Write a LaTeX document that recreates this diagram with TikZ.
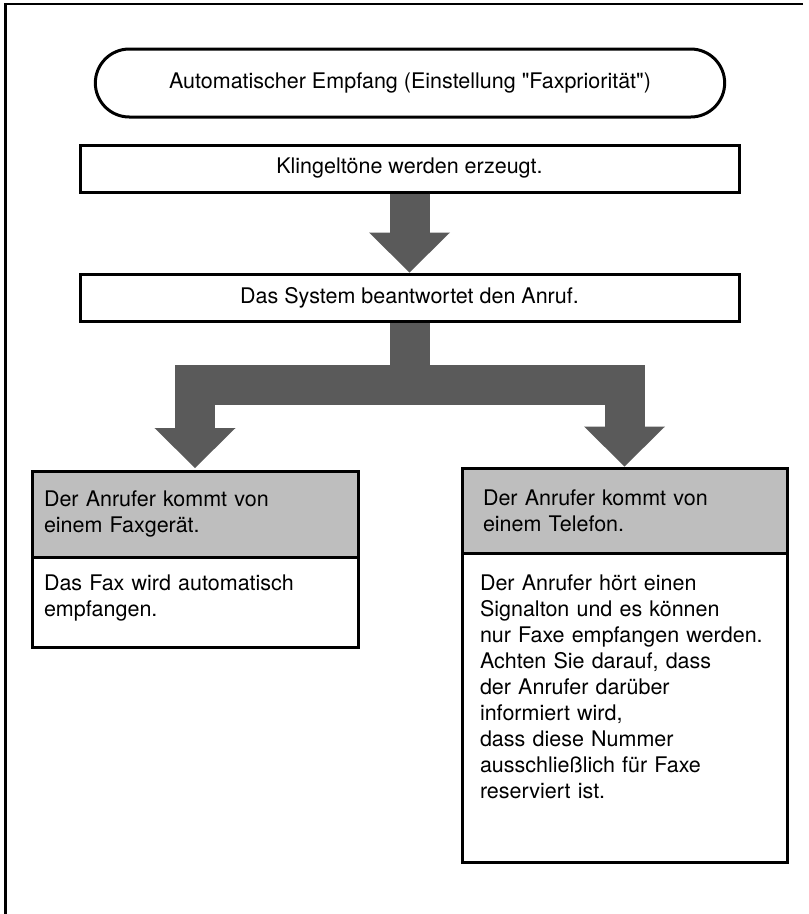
\documentclass[tikz,border=0pt]{standalone}
\usepackage{fontspec}
\setmainfont{TeX Gyre Heros}
\usepackage{xcolor}
\definecolor{flowArrow}{HTML}{5A5A5A}
\definecolor{flowHead}{HTML}{BEBEBE}
\usetikzlibrary{arrows.meta,shapes.misc}
\tikzset{
  flowtext/.style={font=\fontsize{21.5}{26}\selectfont},
  startbox/.style={rounded rectangle, draw, line width=3pt, flowtext, minimum width=636pt, minimum height=68pt},
  stepbox/.style={rectangle, draw, line width=3pt, flowtext, outer sep=0pt, minimum width=659pt, minimum height=47pt},
  casehead/.style={rectangle, draw, line width=3pt, fill=flowHead, flowtext, outer sep=0pt, align=left, anchor=north west, minimum height=86pt, inner ysep=2pt},
  casebody/.style={rectangle, draw, line width=3pt, flowtext, outer sep=0pt, align=left, anchor=north west, inner ysep=0pt},
  blockarrow/.style={draw=flowArrow, line width=40pt, line join=miter, -{Triangle[width=81pt, length=40pt, line width=0pt]}}
}

\begin{document}
\begin{tikzpicture}[x=1pt, y=-1pt]
  \useasboundingbox (0,0) rectangle (809,914);
  \draw[line width=2.5pt] (803,4) -- (5.5,4) -- (5.5,914);
  \node[startbox] (start) at (410,83) {Automatischer Empfang (Einstellung \textquotedbl Faxpriorität\textquotedbl)};
  \node[stepbox] (ring) at (409.5,168.5) {Klingeltöne werden erzeugt.};
  \node[stepbox] (answer) at (409.5,298) {Das System beantwortet den Anruf.};
  \node[casehead, inner xsep=12pt, text width=302pt] (faxhead) at (32,471) {Der Anrufer kommt von\\einem Faxgerät.};
  \node[casebody, inner xsep=12pt, text width=302pt] (faxbody) at (faxhead.south west) {\rule{0pt}{33pt}Das Fax wird automatisch\\empfangen.\rule[-31pt]{0pt}{0pt}};
  \node[casehead, inner xsep=21pt, text width=283pt, minimum height=85pt] (telhead) at (462,468) {Der Anrufer kommt von\\einem Telefon.};
  \node[casebody, inner xsep=18pt, text width=289pt] (telbody) at (telhead.south west) {\rule{0pt}{37pt}Der Anrufer hört einen\\Signalton und es können\\nur Faxe empfangen werden.\\Achten Sie darauf, dass\\der Anrufer darüber\\informiert wird,\\dass diese Nummer\\ausschließlich für Faxe\\reserviert ist.\rule[-64pt]{0pt}{0pt}};
  \draw[blockarrow, shorten <=1.5pt, shorten >=2pt] (ring) -- (answer);
  \draw[blockarrow, shorten <=1.5pt, shorten >=3pt] (answer.south) -- ++(0,63.5) -| (faxhead.north);
  \draw[blockarrow, shorten <=1.5pt, shorten >=1.5pt] (answer.south) -- ++(0,63.5) -| (telhead.north);
\end{tikzpicture}
\end{document}
